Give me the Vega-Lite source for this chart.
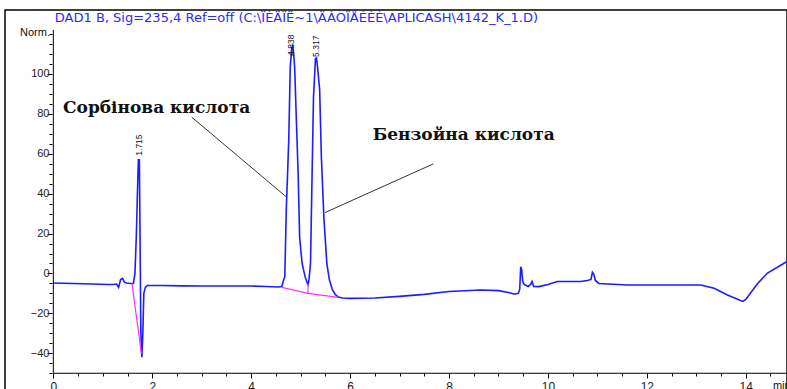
{
  "$schema": "https://vega.github.io/schema/vega-lite/v6.json",
  "width": 782,
  "height": 390,
  "autosize": {"type": "none"},
  "padding": {"left": 5, "top": 10, "right": 0, "bottom": 0},
  "background": "white",
  "config": {
    "view": {"stroke": "#000000", "strokeWidth": 1.5},
    "font": "Liberation Sans"
  },
  "datasets": {
    "trace": [
      {"t": 0.0, "v": -4.8}, {"t": 0.4, "v": -5.0}, {"t": 0.8, "v": -5.3}, {"t": 1.1, "v": -5.5},
      {"t": 1.2, "v": -5.5}, {"t": 1.28, "v": -5.3}, {"t": 1.32, "v": -7}, {"t": 1.36, "v": -3},
      {"t": 1.4, "v": -2.5}, {"t": 1.44, "v": -4.5}, {"t": 1.48, "v": -4.8}, {"t": 1.56, "v": -5},
      {"t": 1.62, "v": -5}, {"t": 1.65, "v": 0}, {"t": 1.68, "v": 20}, {"t": 1.7, "v": 40},
      {"t": 1.72, "v": 57}, {"t": 1.74, "v": 57}, {"t": 1.76, "v": 0}, {"t": 1.77, "v": -30},
      {"t": 1.79, "v": -42}, {"t": 1.81, "v": -30}, {"t": 1.83, "v": -10}, {"t": 1.86, "v": -7},
      {"t": 1.9, "v": -6}, {"t": 2.2, "v": -6}, {"t": 2.6, "v": -6.2}, {"t": 3.0, "v": -6.3},
      {"t": 3.5, "v": -6.3}, {"t": 4.0, "v": -6.3}, {"t": 4.3, "v": -6.5}, {"t": 4.55, "v": -6.8},
      {"t": 4.62, "v": -6.5}, {"t": 4.66, "v": -3}, {"t": 4.68, "v": -1.6}, {"t": 4.71, "v": 31.7},
      {"t": 4.76, "v": 66.7}, {"t": 4.79, "v": 103}, {"t": 4.82, "v": 113}, {"t": 4.84, "v": 114},
      {"t": 4.86, "v": 110}, {"t": 4.88, "v": 103}, {"t": 4.91, "v": 80}, {"t": 4.95, "v": 50},
      {"t": 4.98, "v": 18}, {"t": 5.03, "v": 5}, {"t": 5.09, "v": -1.6}, {"t": 5.13, "v": -4.5},
      {"t": 5.15, "v": -5.5}, {"t": 5.17, "v": -3}, {"t": 5.2, "v": 5}, {"t": 5.23, "v": 47},
      {"t": 5.26, "v": 88}, {"t": 5.3, "v": 107.6}, {"t": 5.32, "v": 108}, {"t": 5.34, "v": 104},
      {"t": 5.385, "v": 92}, {"t": 5.42, "v": 58}, {"t": 5.47, "v": 28}, {"t": 5.53, "v": 5},
      {"t": 5.58, "v": -3}, {"t": 5.64, "v": -8}, {"t": 5.7, "v": -10.5}, {"t": 5.76, "v": -11.8},
      {"t": 5.85, "v": -12.3}, {"t": 6.0, "v": -12.5}, {"t": 6.5, "v": -12.3}, {"t": 7.0, "v": -11.5},
      {"t": 7.5, "v": -10.5}, {"t": 8.0, "v": -9}, {"t": 8.64, "v": -8.3}, {"t": 9.0, "v": -8.6},
      {"t": 9.2, "v": -9.5}, {"t": 9.31, "v": -10.3}, {"t": 9.4, "v": -10}, {"t": 9.43, "v": -8},
      {"t": 9.45, "v": 3.4}, {"t": 9.47, "v": 2}, {"t": 9.49, "v": -4}, {"t": 9.52, "v": -5.5},
      {"t": 9.6, "v": -6.5}, {"t": 9.65, "v": -5.5}, {"t": 9.68, "v": -4}, {"t": 9.71, "v": -6.5},
      {"t": 9.82, "v": -6.6}, {"t": 10.0, "v": -5.5}, {"t": 10.19, "v": -4}, {"t": 10.66, "v": -4},
      {"t": 10.8, "v": -3.5}, {"t": 10.87, "v": -3}, {"t": 10.9, "v": 0.6}, {"t": 10.93, "v": -0.5},
      {"t": 10.96, "v": -3.5}, {"t": 11.03, "v": -5}, {"t": 11.61, "v": -5.75}, {"t": 13.09, "v": -5.75},
      {"t": 13.36, "v": -7.4}, {"t": 13.63, "v": -10.75}, {"t": 13.94, "v": -14}, {"t": 14.0, "v": -13},
      {"t": 14.24, "v": -5}, {"t": 14.44, "v": 0.2}, {"t": 14.834, "v": 6}
    ],
    "base": [
      {"seg": "A", "i": 0, "t": 1.59, "v": -5}, {"seg": "A", "i": 1, "t": 1.78, "v": -40},
      {"seg": "B", "i": 0, "t": 4.62, "v": -7}, {"seg": "B", "i": 1, "t": 5.15, "v": -10}, {"seg": "B", "i": 2, "t": 5.76, "v": -12},
      {"seg": "C", "i": 0, "t": 5.15, "v": -5.5}, {"seg": "C", "i": 1, "t": 5.15, "v": -10}
    ],
    "leaders": [
      {"seg": "s", "i": 0, "t": 2.798, "v": 78.3}, {"seg": "s", "i": 1, "t": 4.719, "v": 38.2},
      {"seg": "b", "i": 0, "t": 7.683, "v": 54.9}, {"seg": "b", "i": 1, "t": 5.493, "v": 30.5}
    ],
    "axlines": [
      {"t": 0, "t2": 0, "v": -50, "v2": 122},
      {"t": 0, "t2": 14.834, "v": -50, "v2": -50}
    ],
    "peaks": [
      {"t": 1.73, "v": 59, "label": "1.715"},
      {"t": 4.81, "v": 109, "label": "4.838"},
      {"t": 5.32, "v": 108.5, "label": "5.317"}
    ],
    "notes": [
      {"t": 0.196, "v": 80.4, "label": "Сорбінова  кислота"},
      {"t": 6.457, "v": 66.9, "label": "Бензойна кислота"}
    ],
    "titles": [
      {"t": 0.03, "v": 128, "label": "DAD1 B, Sig=235,4 Ref=off (C:\\ÏÈÄÏË~1\\ÄÀÖÏÅÉÈÈ\\APLICASH\\4142_K_1.D)"}
    ],
    "small": [
      {"t": -0.673, "v": 120.5, "label": "Norm."},
      {"t": 14.55, "v": -56.5, "label": "min"}
    ]
  },
  "resolve": {"axis": {"x": "independent", "y": "independent"}},
  "layer": [
    {
      "data": {"name": "trace"},
      "mark": {"type": "line", "color": "#1c1cff", "strokeWidth": 1.6, "interpolate": "linear"},
      "encoding": {
        "x": {"field": "t", "type": "quantitative",
          "scale": {"domain": [-0.977, 14.834], "nice": false, "zero": false},
          "axis": {"orient": "bottom", "offset": -27, "values": [0, 2, 4, 6, 8, 10, 12, 14], "domain": false, "grid": false, "title": null,
            "tickSize": 5, "tickColor": "#000", "tickWidth": 1, "labelFontSize": 12, "labelColor": "#222", "labelPadding": 3, "labelFlush": false, "labelFont": "Liberation Sans"}},
        "y": {"field": "v", "type": "quantitative",
          "scale": {"domain": [-63.4, 132], "nice": false, "zero": false},
          "axis": {"orient": "left", "offset": -47, "values": [-40, -20, 0, 20, 40, 60, 80, 100], "domain": false, "grid": false, "title": null,
            "tickSize": 5, "tickColor": "#000", "tickWidth": 1, "labelFontSize": 11, "labelColor": "#222", "labelPadding": -2, "labelFont": "Liberation Sans"}}
      }
    },
    {
      "data": {"name": "axlines"},
      "mark": {"type": "rule", "color": "#000", "strokeWidth": 1},
      "encoding": {
        "x": {"field": "t", "type": "quantitative",
          "axis": {"orient": "bottom", "offset": -27, "values": [0.5, 1, 1.5, 2.5, 3, 3.5, 4.5, 5, 5.5, 6.5, 7, 7.5, 8.5, 9, 9.5, 10.5, 11, 11.5, 12.5, 13, 13.5, 14.5], "domain": false, "grid": false, "title": null, "labels": false, "tickSize": 3, "tickColor": "#000"}},
        "x2": {"field": "t2"},
        "y": {"field": "v", "type": "quantitative",
          "axis": {"orient": "left", "offset": -47, "values": [-50, -45, -35, -30, -25, -15, -10, -5, 5, 10, 15, 25, 30, 35, 45, 50, 55, 65, 70, 75, 85, 90, 95, 105, 110, 115, 120], "domain": false, "grid": false, "title": null, "labels": false, "tickSize": 3, "tickColor": "#000"}},
        "y2": {"field": "v2"}
      }
    },
    {
      "data": {"name": "base"},
      "mark": {"type": "line", "color": "#ff33ff", "strokeWidth": 1.2},
      "encoding": {
        "x": {"field": "t", "type": "quantitative", "axis": null},
        "y": {"field": "v", "type": "quantitative", "axis": null},
        "detail": {"field": "seg"},
        "order": {"field": "i"}
      }
    },
    {
      "data": {"name": "leaders"},
      "mark": {"type": "line", "color": "#333333", "strokeWidth": 1},
      "encoding": {
        "x": {"field": "t", "type": "quantitative", "axis": null},
        "y": {"field": "v", "type": "quantitative", "axis": null},
        "detail": {"field": "seg"},
        "order": {"field": "i"}
      }
    },
    {
      "data": {"name": "peaks"},
      "mark": {"type": "text", "angle": 270, "align": "left", "baseline": "middle", "fontSize": 8.5, "font": "Liberation Sans", "color": "#111"},
      "encoding": {
        "x": {"field": "t", "type": "quantitative", "axis": null},
        "y": {"field": "v", "type": "quantitative", "axis": null},
        "text": {"field": "label"}
      }
    },
    {
      "data": {"name": "notes"},
      "mark": {"type": "text", "align": "left", "baseline": "alphabetic", "fontSize": 17, "font": "DejaVu Serif", "fontWeight": "bold", "color": "#111"},
      "encoding": {
        "x": {"field": "t", "type": "quantitative", "axis": null},
        "y": {"field": "v", "type": "quantitative", "axis": null},
        "text": {"field": "label"}
      }
    },
    {
      "data": {"name": "titles"},
      "mark": {"type": "text", "align": "left", "baseline": "middle", "fontSize": 13, "font": "DejaVu Sans", "color": "#2a2aff"},
      "encoding": {
        "x": {"field": "t", "type": "quantitative", "axis": null},
        "y": {"field": "v", "type": "quantitative", "axis": null},
        "text": {"field": "label"}
      }
    },
    {
      "data": {"name": "small"},
      "mark": {"type": "text", "align": "left", "baseline": "middle", "fontSize": 11, "font": "Liberation Sans", "color": "#111"},
      "encoding": {
        "x": {"field": "t", "type": "quantitative", "axis": null},
        "y": {"field": "v", "type": "quantitative", "axis": null},
        "text": {"field": "label"}
      }
    }
  ]
}
